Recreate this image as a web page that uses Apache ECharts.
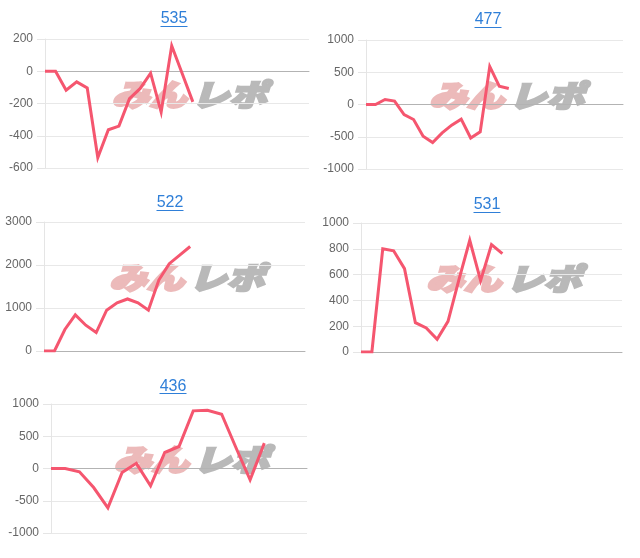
<!DOCTYPE html>
<html>
<head>
<meta charset="utf-8">
<script src="https://cdn.jsdelivr.net/npm/echarts@6/dist/echarts.min.js"></script>
<style>
html,body{margin:0;padding:0;background:#fff;}
#c{width:640px;height:558px;}
</style>
</head>
<body>
<div id="c"></div>
<script>
// ---- data ----
const titles = ['535', '477', '522', '531', '436'];

const cats535 = ['1','2','3','4','5','6','7','8','9','10','11','12','13','14','15','16','17','18','19','20','21','22','23','24','25','26'];
const cats477 = ['1','2','3','4','5','6','7','8','9','10','11','12','13','14','15','16','17','18','19','20','21','22','23','24','25','26','27','28'];
const cats522 = ['1','2','3','4','5','6','7','8','9','10','11','12','13','14','15','16','17','18','19','20','21','22','23','24','25','26'];
const cats531 = ['1','2','3','4','5','6','7','8','9','10','11','12','13','14','15','16','17','18','19','20','21','22','23','24','25'];
const cats436 = ['1','2','3','4','5','6','7','8','9','10','11','12','13','14','15','16','17','18','19'];

const vals535 = [0, 0, -118, -66, -104, -535, -363, -340, -170, -108, -12, -253, 158, -15, -190];
const vals477 = [0, 0, 78, 52, -155, -233, -491, -590, -440, -320, -227, -520, -424, 590, 284, 248];
const vals522 = [0, 0, 500, 840, 600, 430, 950, 1120, 1210, 1120, 950, 1650, 2030, 2230, 2430];
const vals531 = [0, 0, 800, 785, 646, 227, 186, 98, 238, 560, 866, 553, 832, 762];
const vals436 = [0, 0, -52, -295, -610, -62, 80, -269, 248, 341, 894, 904, 842, 326, -176, 393];

const yMin = [-600, -1000, 0, 0, -1000];
const yMax = [200, 1000, 3000, 1000, 1000];
const yStep = [200, 500, 1000, 200, 500];

// ---- layout ----
const cats = [cats535, cats477, cats522, cats531, cats436];
const vals = [vals535, vals477, vals522, vals531, vals436];
const grids = [
  {left: 45,  width: 264, top: 39,  height: 129},
  {left: 366, width: 257, top: 40,  height: 129},
  {left: 44,  width: 261, top: 222, height: 129},
  {left: 361, width: 261, top: 223, height: 129},
  {left: 51,  width: 256, top: 404, height: 129}
];
const titlePos = [
  {x: 174, top: 11, ul: 26},
  {x: 488, top: 12, ul: 27},
  {x: 170, top: 195, ul: 210},
  {x: 487, top: 197, ul: 212},
  {x: 173, top: 379, ul: 393}
];

const LINE = '#f5566f';
const TITLE = '#2f7fd8';
const FONT = '"Liberation Sans", Arial, Helvetica, sans-serif';
const WM_FONT = 'italic 900 30px "Noto Sans CJK JP"';

const option = {
  animation: false,
  backgroundColor: '#fff',
  title: [], grid: [], xAxis: [], yAxis: [], series: [], graphic: []
};

for (let i = 0; i < 5; i++) {
  const g = grids[i];
  option.grid.push({left: g.left, top: g.top, width: g.width, height: g.height, containLabel: false});
  option.title.push({
    text: titles[i], left: titlePos[i].x, top: titlePos[i].top, textAlign: 'center', padding: 0,
    textStyle: {color: TITLE, fontSize: 16, fontWeight: 'normal', fontFamily: FONT}
  });
  option.graphic.push({
    type: 'line', z: 10,
    shape: {x1: titlePos[i].x - 13.5, y1: titlePos[i].ul + 0.5, x2: titlePos[i].x + 13.5, y2: titlePos[i].ul + 0.5},
    style: {stroke: TITLE, lineWidth: 1}
  });
  // watermark
  const cx = g.left + g.width / 2 + 11;
  const cy = g.top + g.height / 2 - 9;
  option.graphic.push({
    type: 'group', x: cx, y: cy, scaleX: 1.25, scaleY: 1, z: 0, silent: true,
    children: [
      {type: 'text', x: -1, y: 0, style: {text: 'みん', align: 'right', verticalAlign: 'middle',
        fill: '#ecbaba', stroke: '#ecbaba', lineWidth: 2.5, font: WM_FONT}},
      {type: 'text', x: 3, y: 0, style: {text: 'レポ', align: 'left', verticalAlign: 'middle',
        fill: '#b9b9b9', stroke: '#b9b9b9', lineWidth: 2.5, font: WM_FONT}}
    ]
  });
  option.xAxis.push({
    type: 'category', gridIndex: i, data: cats[i], boundaryGap: false,
    axisLine: {show: true, onZero: true, lineStyle: {color: '#b3b3b3', width: 1}},
    axisTick: {show: false}, axisLabel: {show: false}, splitLine: {show: false}
  });
  option.yAxis.push({
    type: 'value', gridIndex: i, min: yMin[i], max: yMax[i], interval: yStep[i],
    axisLine: {show: true, lineStyle: {color: '#e5e5e5'}},
    axisTick: {show: true, length: 8, lineStyle: {color: '#e5e5e5'}},
    axisLabel: {color: '#666', fontSize: 12, fontFamily: FONT, margin: 12, formatter: v => String(v)},
    splitLine: {show: true, lineStyle: {color: '#e8e8e8', width: 1}}
  });
  option.series.push({
    type: 'line', xAxisIndex: i, yAxisIndex: i, data: vals[i], showSymbol: false, symbol: 'none',
    z: 5, lineStyle: {color: LINE, width: 3, join: 'miter'}, itemStyle: {color: LINE}
  });
}

const chart = echarts.init(document.getElementById('c'), null, {renderer: 'canvas'});
chart.setOption(option);
</script>
</body>
</html>
